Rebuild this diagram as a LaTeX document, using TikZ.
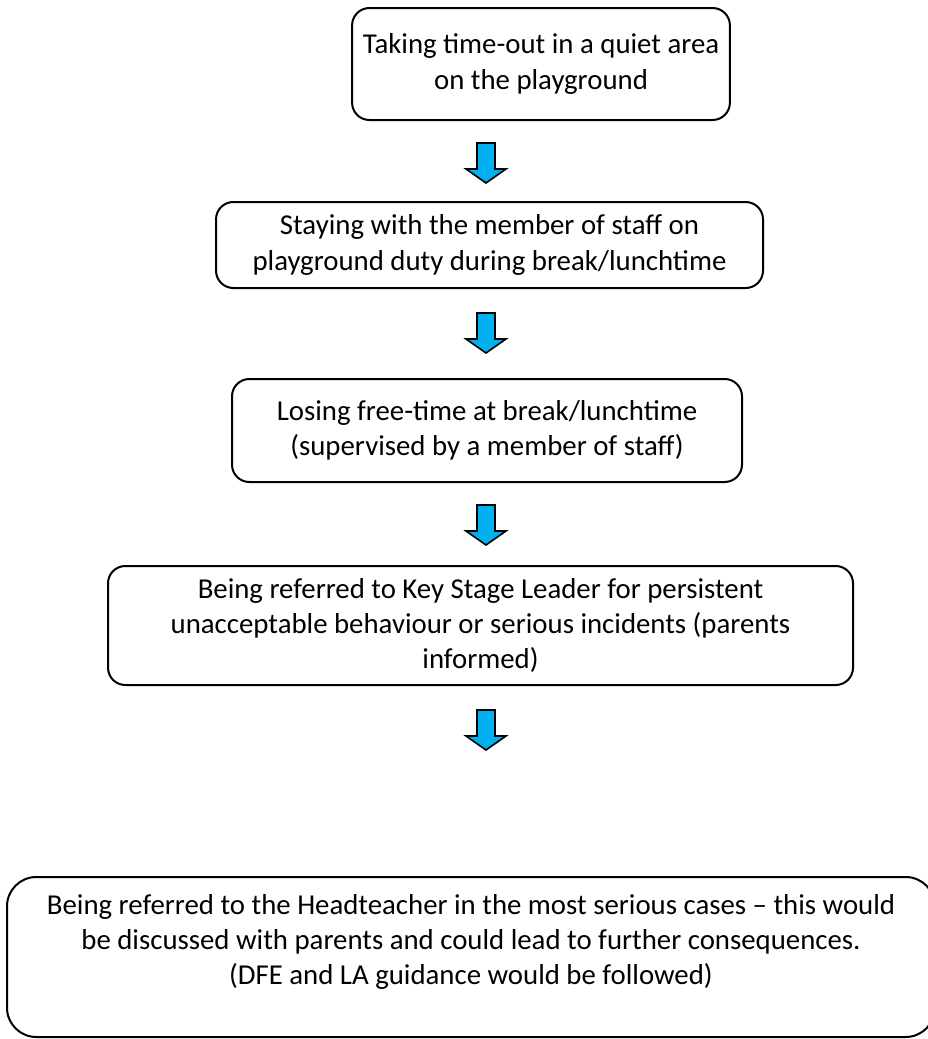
\documentclass[tikz,border=0pt]{standalone}
\usepackage{fontspec}
\setmainfont{Carlito}
\usepackage{tikz}
\usetikzlibrary{positioning,calc}
\definecolor{arrowblue}{HTML}{00B0F0}

\tikzset{
    stage/.style={draw, line width=0.75pt, rounded corners=6.5pt, align=center,
        font=\fontsize{10.8}{13.2}\selectfont, inner xsep=4pt, inner ysep=0pt},
    blockarrow/.pic={
        \draw[fill=arrowblue, line width=0.6pt, line join=miter]
            (-9,0) -- (9,0) -- (9,-26) -- (20,-26) -- (0,-40) -- (-20,-26) -- (-9,-26) -- cycle;
    }
}

\begin{document}
\begin{tikzpicture}[x=0.375pt, y=0.375pt]
    \useasboundingbox (0,0) rectangle (928,-1039);

    % Stages
    \node[stage, minimum width=330*0.375pt, minimum height=112*0.375pt] (taking) at (541,-64)
        {Taking time-out in a quiet area\\on the playground};
    \node[stage, minimum width=547*0.375pt, minimum height=86*0.375pt] (staying) at (489.5,-245)
        {Staying with the member of staff on\\playground duty during break/lunchtime};
    \node[stage, minimum width=510*0.375pt, minimum height=103*0.375pt] (losing) at (487,-430.5)
        {Losing free-time at break/lunchtime\\(supervised by a member of staff)};
    \node[stage, minimum width=745*0.375pt, minimum height=119*0.375pt] (keystage) at (480.5,-625.5)
        {Being referred to Key Stage Leader for persistent\\unacceptable behaviour or serious incidents (parents\\informed)};
    \node[stage, rounded corners=11pt, minimum width=928*0.375pt, minimum height=160*0.375pt] (headteacher) at (471,-957)
        {Being referred to the Headteacher in the most serious cases -- this would\\be discussed with parents and could lead to further consequences.\\(DFE and LA guidance would be followed)\\\mbox{}};

    % Arrows between stages
    \foreach \y in {143, 313, 505, 710} {
        \pic at (486,-\y) {blockarrow};
    }
\end{tikzpicture}
\end{document}
